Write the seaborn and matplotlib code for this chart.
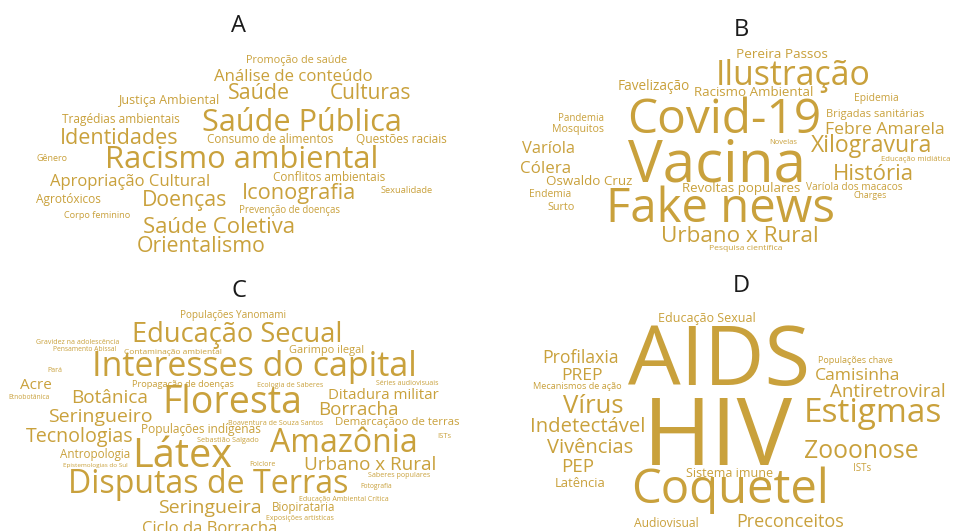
import matplotlib
matplotlib.use("Agg")
import matplotlib.pyplot as plt
import seaborn as sns
import pandas as pd

# --- data: words and their weights (font size) for each word cloud ---
words_a = ["Promoção de saúde", "Análise de conteúdo", "Saúde", "Culturas",
           "Justiça Ambiental", "Tragédias ambientais", "Saúde Pública",
           "Identidades", "Consumo de alimentos", "Questões raciais", "Gênero",
           "Racismo ambiental", "Apropriação Cultural", "Conflitos ambientais",
           "Sexualidade", "Iconografia", "Agrotóxicos", "Doenças",
           "Prevenção de doenças", "Corpo feminino", "Saúde Coletiva",
           "Orientalismo"]
weights_a = [7.8, 12.1, 15.4, 15, 9, 8.6, 22.1, 15.5, 8.5, 8.6, 6.5, 22.2, 12,
             8.5, 6.7, 15.7, 8.6, 15.3, 6.9, 6.6, 15.9, 15.3]

words_b = ["Pereira Passos", "Ilustração", "Favelização", "Racismo Ambiental",
           "Epidemia", "Covid-19", "Brigadas sanitárias", "Pandemia",
           "Mosquitos", "Febre Amarela", "Novelas", "Xilogravura", "Varíola",
           "Educação midiática", "Vacina", "Cólera", "História",
           "Oswaldo Cruz", "Revoltas populares", "Varíola dos macacos",
           "Endemia", "Charges", "Surto", "Fake news", "Urbano x Rural",
           "Pesquisa científica"]
weights_b = [9.7, 24.4, 9.8, 9.6, 7.4, 34.5, 7.9, 7, 7.7, 12.6, 5.5, 16.6, 11.9,
             5.6, 42, 12.2, 16, 9.6, 9.5, 7.3, 7.4, 6.3, 7.8, 34, 16.2, 6.1]

words_c = ["Populações Yanomami", "Educação Secual", "Gravidez na adolescência",
           "Pensamento Abissal", "Contaminação ambiental", "Garimpo ilegal",
           "Interesses do capital", "Pará", "Acre", "Etnobotânica",
           "Propagação de doenças", "Ecologia de Saberes", "Séries audiovisuais",
           "Botânica", "Floresta", "Ditadura militar", "Seringueiro",
           "Borracha", "Boaventura de Souza Santos", "Demarcaçãoo de terras",
           "Populações indígenas", "Tecnologias", "Sebastião Salgado", "ISTs",
           "Amazônia", "Látex", "Antropologia", "Epistemologias do Sul",
           "Folclore", "Urbano x Rural", "Saberes populares",
           "Disputas de Terras", "Fotografia", "Educação Ambiental Crítica",
           "Seringueira", "Biopirataria", "Exposições artísticas",
           "Ciclo da Borracha"]
weights_c = [7.2, 19.6, 5, 4.9, 6, 7.9, 24.5, 5, 11, 4.9, 6.7, 5.1, 5, 13.7,
             27, 10.8, 14, 13.6, 5.1, 8.2, 8.6, 14.1, 5.2, 5.5, 23, 28.5, 8.4,
             4.6, 5.1, 13.6, 5.1, 23.1, 4.9, 5, 14, 8.4, 5, 12]

words_d = ["Educação Sexual", "AIDS", "Profilaxia", "Populações chave", "PREP",
           "Camisinha", "Mecanismos de ação", "Antiretroviral", "Vírus", "HIV",
           "Estigmas", "Indetectável", "Vivências", "Zooonose", "ISTs", "PEP",
           "Sistema imune", "Latência", "Coquetel", "Audiovisual",
           "Preconceitos"]
weights_d = [9, 60, 12.7, 6.5, 12.6, 12.6, 6.6, 13.5, 18.5, 67, 24, 14.6, 14.5,
             17.8, 7, 13.5, 9, 9.4, 34, 8.7, 13]

panel_labels = ["A", "B", "C", "D"]

# --- layout: word anchor (centre x, baseline y) in figure pixels ---
pos_a = [(297, 63), (293, 81), (259, 99), (371, 99), (169, 104), (121, 123),
         (302, 131), (119, 144), (270, 143), (401, 143), (52, 161), (242, 168),
         (130, 186), (329, 181), (407, 193), (299, 199), (68, 203), (185, 206),
         (290, 213), (97, 218), (219, 233), (201, 252)]
pos_b = [(782, 58), (793, 85), (654, 90), (754, 96), (876, 101), (724, 133),
         (875, 117), (581, 121), (578, 132), (885, 134), (783, 144), (872, 152),
         (549, 153), (916, 161), (717, 182), (546, 173), (873, 180), (589, 185),
         (741, 192), (854, 190), (550, 197), (870, 198), (561, 210), (721, 222),
         (740, 242), (746, 250)]
pos_c = [(233, 318), (237, 342), (78, 344), (85, 351), (173, 354), (327, 353),
         (254, 376), (55, 372), (36, 389), (29, 399), (183, 387), (290, 387),
         (407, 385), (110, 403), (232, 413), (383, 399), (100, 422), (358, 415),
         (276, 425), (397, 425), (201, 433), (80, 442), (228, 442), (444, 438),
         (344, 452), (182, 467), (95, 458), (95, 467), (262, 466), (370, 470),
         (399, 477), (208, 493), (376, 488), (344, 501), (210, 513), (304, 511),
         (300, 520), (210, 533)]
pos_d = [(707, 322), (719, 385), (581, 363), (855, 363), (582, 380), (858, 380),
         (577, 389), (888, 397), (593, 413), (718, 465), (873, 422), (588, 432),
         (590, 453), (861, 458), (862, 471), (578, 472), (730, 477), (580, 487),
         (730, 503), (666, 527), (790, 527)]
label_pos = [(239, 32), (741, 36), (239, 297), (741, 292)]

GOLD = "#C9A13C"

frames = []
for words, weights, pos in [(words_a, weights_a, pos_a), (words_b, weights_b, pos_b),
                            (words_c, weights_c, pos_c), (words_d, weights_d, pos_d)]:
    frames.append(pd.DataFrame({"word": words, "weight": weights,
                                "x": [p_[0] for p_ in pos], "y": [p_[1] for p_ in pos]}))
df = pd.concat(frames, ignore_index=True)

sns.set_theme(style="white")
plt.rcParams["font.family"] = ["Open Sans", "DejaVu Sans"]

fig = plt.figure(figsize=(9.54, 5.31), dpi=100)
ax = fig.add_axes([0, 0, 1, 1])
ax.set_xlim(0, 954)
ax.set_ylim(531, 0)
ax.axis("off")

for _, row in df.iterrows():
    ax.text(row["x"], row["y"], row["word"], ha="center", va="baseline",
            fontsize=row["weight"], color=GOLD)

for lab, (lx, ly) in zip(panel_labels, label_pos):
    ax.text(lx, ly, lab, ha="center", va="baseline", fontsize=17, color="#1b1b1b")

fig.savefig("out.png", dpi=100, facecolor="white")
